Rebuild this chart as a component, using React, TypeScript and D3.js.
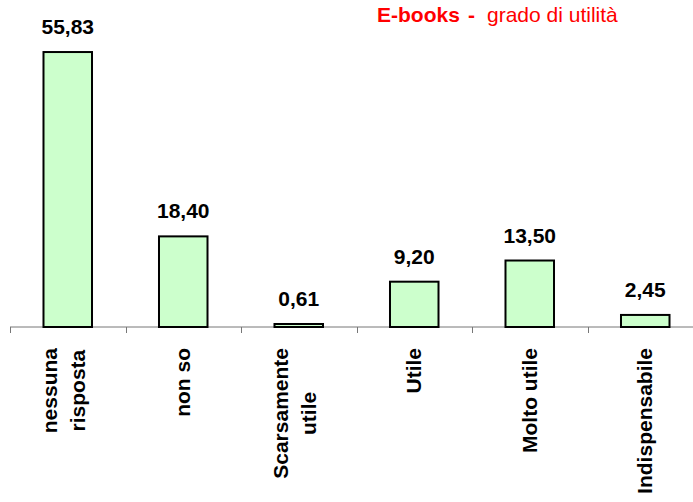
import * as d3 from 'd3';
import { useEffect, useRef } from 'react';

const categories = ['nessuna\nrisposta', 'non so', 'Scarsamente\nutile', 'Utile', 'Molto utile', 'Indispensabile'];
const values = [55.83, 18.4, 0.61, 9.2, 13.5, 2.45];
const titleBold = 'E-books';
const titleDash = '-';
const titleRest = 'grado di utilità';

const W = 693;
const H = 502;
const baseY = 327;
const labelTop = 348;
const font = 'Arial, "Liberation Sans", sans-serif';

const fmt = (v: number) => d3.format('.2f')(v).replace('.', ',');

const App = () => {
  const ref = useRef<SVGSVGElement | null>(null);

  useEffect(() => {
    const svg = d3.select(ref.current);
    svg.selectAll('*').remove();

    const x = d3.scaleBand<string>().domain(categories).range([10, 703]).padding(0);
    const y = d3.scaleLinear().domain([0, 60]).range([baseY, 31.5]);
    const bw = x.bandwidth();

    // axis line + ticks between categories
    svg.append('line')
      .attr('x1', 10).attr('x2', W)
      .attr('y1', baseY).attr('y2', baseY)
      .attr('stroke', '#777').attr('stroke-width', 1);
    svg.selectAll('.tick')
      .data(categories)
      .enter()
      .append('line')
      .attr('x1', (d) => Math.round(x(d)!) + 0.5)
      .attr('x2', (d) => Math.round(x(d)!) + 0.5)
      .attr('y1', baseY)
      .attr('y2', baseY + 6)
      .attr('stroke', '#777');

    // bars
    svg.selectAll('.bar')
      .data(categories)
      .enter()
      .append('rect')
      .attr('x', (d) => x(d)! + bw * 0.29)
      .attr('width', bw * 0.42)
      .attr('y', (d, i) => y(values[i]))
      .attr('height', (d, i) => y(0) - y(values[i]))
      .attr('fill', '#CCFFCC')
      .attr('stroke', '#000')
      .attr('stroke-width', 2);

    // value labels
    svg.selectAll('.val')
      .data(categories)
      .enter()
      .append('text')
      .attr('x', (d) => x(d)! + bw / 2)
      .attr('y', (d, i) => y(values[i]) - 18)
      .attr('text-anchor', 'middle')
      .style('font-family', font)
      .style('font-weight', 'bold')
      .style('font-size', '21px')
      .text((d, i) => fmt(values[i]));

    // rotated category labels
    categories.forEach((c) => {
      const lines = c.split('\n');
      const n = lines.length;
      const g = svg.append('g')
        .attr('transform', `translate(${x(c)! + bw / 2}, ${labelTop}) rotate(-90)`);
      const texts = lines.map((line, i) =>
        g.append('text')
          .attr('y', 7 - (n - 1) * 3.5 + (i - (n - 1) / 2) * 28)
          .attr('text-anchor', 'end')
          .style('font-family', font)
          .style('font-weight', 'bold')
          .style('font-size', '21px')
          .text(line)
      );
      const lens = texts.map((t) => (t.node() as SVGTextElement).getComputedTextLength());
      const maxLen = d3.max(lens) ?? 0;
      texts.forEach((t, i) => t.attr('x', -(maxLen - lens[i]) / 2));
    });

    // title
    const title = svg.append('text')
      .attr('y', 22)
      .attr('fill', '#FF0000')
      .style('font-family', font)
      .style('font-size', '21px');
    title.append('tspan').attr('x', 377).style('font-weight', 'bold').text(titleBold);
    title.append('tspan').attr('x', 468).style('font-weight', 'bold').text(titleDash);
    title.append('tspan').attr('x', 487).text(titleRest);
  }, []);

  return (
    <svg
      ref={ref}
      width={W}
      height={H}
      style={{ position: 'absolute', left: 0, top: 0, background: '#fff' }}
    />
  );
};

export default App;
